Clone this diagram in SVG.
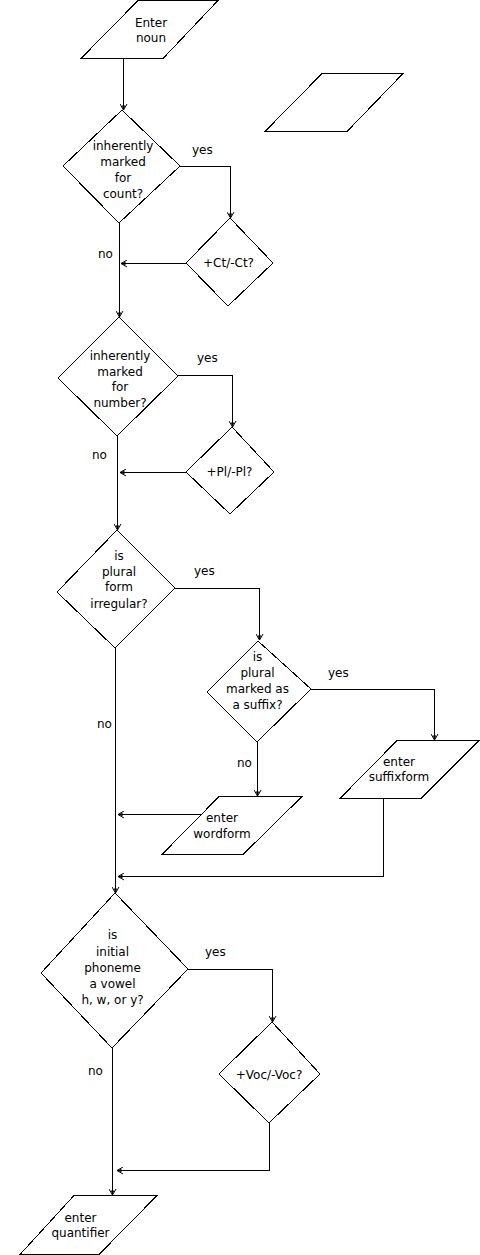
<svg xmlns="http://www.w3.org/2000/svg" width="480" height="1255" viewBox="0 0 480 1255">
<style>
.shape{fill:#fff;stroke:#000;stroke-width:1;shape-rendering:crispEdges}
.conn{fill:none;stroke:#000;stroke-width:1;shape-rendering:crispEdges}
text{font-family:"DejaVu Sans","Liberation Sans",sans-serif;font-size:12px;fill:#000}
.c{text-anchor:middle}
</style>
<defs>
<marker id="arr" markerUnits="userSpaceOnUse" viewBox="0 0 8 8" markerWidth="8" markerHeight="8" refX="7" refY="4" orient="auto">
<path d="M1,0.5 L7,4 L1,7.5" fill="none" stroke="#000" stroke-width="1"/>
<path d="M2.5,2.3 L7,4 L2.5,5.7 Z" fill="#000"/>
</marker>
</defs>
<rect width="480" height="1255" fill="#fff"/>
<g id="connectors">
<path class="conn" marker-end="url(#arr)" d="M123.5,58.5 V110"/>
<path class="conn" marker-end="url(#arr)" d="M180,166.5 H230.5 V218"/>
<path class="conn" marker-end="url(#arr)" d="M186,263.5 H121"/>
<path class="conn" marker-end="url(#arr)" d="M119.5,223 V317"/>
<path class="conn" marker-end="url(#arr)" d="M178,375.5 H232.5 V427"/>
<path class="conn" marker-end="url(#arr)" d="M186,472.5 H120"/>
<path class="conn" marker-end="url(#arr)" d="M117.5,436 V530"/>
<path class="conn" marker-end="url(#arr)" d="M175,588.5 H259.5 V640"/>
<path class="conn" marker-end="url(#arr)" d="M311,689.5 H434.5 V740"/>
<path class="conn" marker-end="url(#arr)" d="M257.5,742 V796"/>
<path class="conn" marker-end="url(#arr)" d="M202,814.5 H118"/>
<path class="conn" marker-end="url(#arr)" d="M383.5,798.5 V876.5 H118"/>
<path class="conn" marker-end="url(#arr)" d="M115.5,648 V893"/>
<path class="conn" marker-end="url(#arr)" d="M188,969.5 H272.5 V1022"/>
<path class="conn" marker-end="url(#arr)" d="M269.5,1123 V1170.5 H117"/>
<path class="conn" marker-end="url(#arr)" d="M112.5,1048 V1195"/>
<text x="192" y="154">yes</text>
<text x="98" y="258">no</text>
<text x="197" y="362">yes</text>
<text x="92" y="459">no</text>
<text x="194" y="575">yes</text>
<text x="97" y="728">no</text>
<text x="328" y="677">yes</text>
<text x="237" y="767">no</text>
<text x="205" y="956">yes</text>
<text x="88" y="1075">no</text>
</g>
<g id="enter_noun">
<polygon class="shape" points="138,0.5 218,0.5 163,58.5 81,58.5"/>
<text class="c" x="151" y="26.5">Enter</text>
<text class="c" x="151" y="42">noun</text>
</g>
<g id="empty_io">
<polygon class="shape" points="322,73.5 403,73.5 347,131.5 265,131.5"/>
</g>
<g id="count_q">
<polygon class="shape" points="122,110 180,166 119,223 63,166"/>
<text class="c" x="123" y="149.5">inherently</text>
<text class="c" x="123" y="165.5">marked</text>
<text class="c" x="123" y="181.5">for</text>
<text class="c" x="123" y="197.5">count?</text>
</g>
<g id="ct_q">
<polygon class="shape" points="230,218 273,263 228,306 186,263"/>
<text class="c" x="228.5" y="267">+Ct/-Ct?</text>
</g>
<g id="number_q">
<polygon class="shape" points="119,317 178,376 117,436 58,378"/>
<text class="c" x="120" y="359.5">inherently</text>
<text class="c" x="120" y="375.5">marked</text>
<text class="c" x="120" y="391">for</text>
<text class="c" x="120" y="407">number?</text>
</g>
<g id="pl_q">
<polygon class="shape" points="232,427 274,472 230,514 186,472"/>
<text class="c" x="229.5" y="476">+Pl/-Pl?</text>
</g>
<g id="irregular_q">
<polygon class="shape" points="117,530 175,588 115,648 57,592"/>
<text class="c" x="119" y="559.5">is</text>
<text class="c" x="119" y="575.5">plural</text>
<text class="c" x="119" y="591">form</text>
<text class="c" x="119" y="607.5">irregular?</text>
</g>
<g id="suffix_q">
<polygon class="shape" points="258,641 311,689 257,742 207,692"/>
<text class="c" x="257.5" y="661">is</text>
<text class="c" x="257.5" y="677">plural</text>
<text class="c" x="257.5" y="693">marked as</text>
<text class="c" x="257.5" y="709">a suffix?</text>
</g>
<g id="suffixform">
<polygon class="shape" points="397,740.5 479,740.5 421,798.5 340,798.5"/>
<text class="c" x="399" y="765.5">enter</text>
<text class="c" x="399" y="781">suffixform</text>
</g>
<g id="wordform">
<polygon class="shape" points="219,796.5 302,796.5 243,854.5 162,854.5"/>
<text class="c" x="222" y="821.5">enter</text>
<text class="c" x="222" y="837.5">wordform</text>
</g>
<g id="vowel_q">
<polygon class="shape" points="115,893 188,969 112,1048 41,973"/>
<text class="c" x="112.5" y="939">is</text>
<text class="c" x="112.5" y="955.5">initial</text>
<text class="c" x="112.5" y="971.5">phoneme</text>
<text class="c" x="112.5" y="987.5">a vowel</text>
<text class="c" x="112.5" y="1003.5">h, w, or y?</text>
</g>
<g id="voc_q">
<polygon class="shape" points="272,1022 320,1074 269,1123 219,1074"/>
<text class="c" x="269" y="1079">+Voc/-Voc?</text>
</g>
<g id="quantifier">
<polygon class="shape" points="74,1195.5 157,1195.5 99,1254.5 20,1254.5"/>
<text class="c" x="80.5" y="1221.5">enter</text>
<text class="c" x="80.5" y="1237">quantifier</text>
</g>
</svg>
